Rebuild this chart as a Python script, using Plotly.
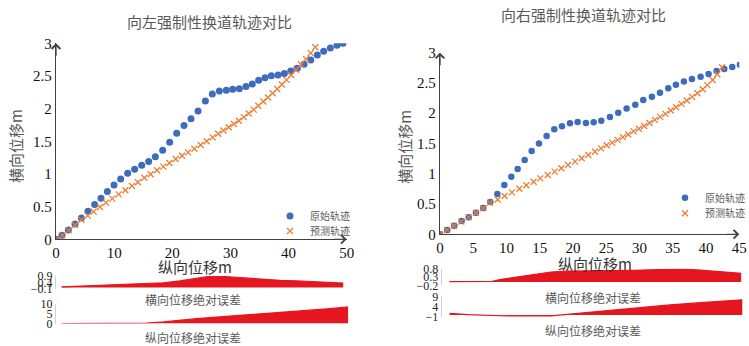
import plotly.graph_objects as go

W, H = 749, 346

# ---------------- data ----------------
left_blue_x = [0, 1.03, 2.12, 3.27, 4.36, 5.5, 6.65, 7.74, 8.83, 9.98, 11.12, 12.33, 13.53, 14.74, 15.94,
               17.09, 18.35, 19.55, 20.76, 22.02, 23.22, 24.43, 25.69, 26.89, 28.1, 29.3, 30.39, 31.54,
               32.68, 33.77, 34.86, 35.95, 37.04, 38.19, 39.28, 40.37, 41.51, 42.66, 43.81, 44.95, 46.04,
               47.19, 48.33, 49.37]
left_blue_y = [0, 0.061, 0.143, 0.235, 0.327, 0.429, 0.531, 0.628, 0.730, 0.832, 0.923, 1.010, 1.071,
               1.133, 1.189, 1.265, 1.362, 1.485, 1.622, 1.740, 1.847, 1.964, 2.117, 2.224, 2.270, 2.281,
               2.296, 2.306, 2.337, 2.378, 2.434, 2.474, 2.505, 2.515, 2.536, 2.577, 2.617, 2.679, 2.745,
               2.821, 2.878, 2.929, 2.969, 3.0]
left_pred_x = [0, 1.09, 2.18, 3.27, 4.36, 5.45, 6.48, 7.57, 8.6, 9.69, 10.78, 11.93, 13.07, 14.1, 15.2,
               16.28, 17.37, 18.46, 19.5, 20.59, 21.68, 22.71, 23.8, 24.89, 25.92, 26.95, 27.9, 28.8,
               29.7, 30.6, 31.45, 32.3, 33.15, 34.0, 34.8, 35.65, 36.45, 37.25, 38.05, 38.85, 39.65,
               40.45, 41.3, 42.15, 43.0, 43.8, 44.6]
left_pred_y = [0, 0.06, 0.137, 0.219, 0.30, 0.362, 0.423, 0.494, 0.561, 0.622, 0.688, 0.75, 0.816, 0.872,
               0.943, 0.995, 1.056, 1.112, 1.168, 1.229, 1.28, 1.331, 1.387, 1.443, 1.50, 1.56, 1.615,
               1.665, 1.715, 1.765, 1.815, 1.87, 1.925, 1.985, 2.045, 2.11, 2.17, 2.235, 2.30, 2.37, 2.44,
               2.515, 2.595, 2.675, 2.76, 2.85, 2.94]

right_blue_x = [0, 1.10, 2.15, 3.26, 4.31, 5.41, 6.51, 7.57, 8.62, 9.67, 10.72, 11.67, 12.73, 13.78,
                14.88, 16.03, 17.18, 18.34, 19.54, 20.69, 21.94, 23.10, 24.25, 25.55, 26.80, 28.06, 29.36,
                30.56, 31.86, 33.07, 34.32, 35.47, 36.67, 37.88, 39.18, 40.38, 41.58, 42.74, 43.94, 45.09]
right_blue_y = [0, 0.072, 0.143, 0.220, 0.281, 0.358, 0.435, 0.534, 0.666, 0.815, 0.952, 1.079, 1.227,
                1.376, 1.502, 1.624, 1.734, 1.783, 1.833, 1.855, 1.838, 1.849, 1.877, 1.937, 2.009, 2.080,
                2.141, 2.218, 2.273, 2.339, 2.411, 2.471, 2.526, 2.565, 2.603, 2.647, 2.697, 2.730, 2.763,
                2.80]
right_pred_x = [0, 1.05, 2.1, 3.2, 4.3, 5.4, 6.5, 7.52, 8.67, 9.72, 10.82, 11.93, 12.98, 14.08, 15.08,
                16.19, 17.24, 18.24, 19.24, 20.3, 21.3, 22.3, 23.3, 24.2, 25.05, 25.9, 26.7, 27.5, 28.3,
                29.1, 29.9, 30.7, 31.5, 32.3, 33.1, 33.9, 34.7, 35.5, 36.3, 37.1, 37.9, 38.7, 39.5, 40.2,
                41.0, 41.7, 42.4]
right_pred_y = [0, 0.07, 0.14, 0.21, 0.28, 0.355, 0.43, 0.52, 0.575, 0.632, 0.693, 0.753, 0.809, 0.869,
                0.924, 0.98, 1.035, 1.09, 1.145, 1.20, 1.255, 1.31, 1.365, 1.42, 1.47, 1.515, 1.56, 1.605,
                1.65, 1.70, 1.745, 1.79, 1.84, 1.89, 1.94, 1.99, 2.045, 2.10, 2.155, 2.21, 2.27, 2.33,
                2.395, 2.465, 2.55, 2.645, 2.76]

# absolute error strips
left_lat_x = [0.98, 7.0, 12.7, 18.5, 21.3, 24.2, 26.5, 28.2, 29.9, 32.8, 35.7, 38.5, 41.4, 44.2, 47.1, 49.4]
left_lat_y = [0.05, 0.17, 0.27, 0.37, 0.51, 0.74, 0.88, 0.88, 0.82, 0.72, 0.64, 0.56, 0.51, 0.45, 0.43, 0.35]
left_lon_x = [0.98, 12.7, 15.6, 18.5, 24.2, 29.9, 35.7, 41.4, 47.1, 50.3]
left_lon_y = [0.0, 0.05, 0.25, 0.8, 2.5, 3.8, 5.0, 6.2, 7.6, 8.5]
right_lat_x = [1.16, 4.0, 7.5, 9.0, 11.5, 14.0, 16.5, 19.0, 24.05, 29.1, 34.1, 36.6, 39.1, 41.6, 44.1, 45.3]
right_lat_y = [0.02, 0.02, 0.03, 0.16, 0.32, 0.48, 0.60, 0.66, 0.66, 0.70, 0.76, 0.78, 0.72, 0.64, 0.56, 0.52]
right_lon_x = [1.2, 4.0, 9.0, 14.0, 16.5, 19.0, 24.0, 29.1, 34.1, 39.1, 44.1, 45.5]
right_lon_y = [0.8, 0.1, -0.4, -0.5, -0.5, 0.3, 1.8, 3.0, 4.7, 5.9, 6.9, 7.3]

left_title = "向左强制性换道轨迹对比"
right_title = "向右强制性换道轨迹对比"
ylab = "横向位移m"
xlab = "纵向位移m"
lat_lab = "横向位移绝对误差"
lon_lab = "纵向位移绝对误差"
name_orig = "原始轨迹"
name_pred = "预测轨迹"

main_y_ticks = [0, 0.5, 1, 1.5, 2, 2.5, 3]
main_y_text = ["0", "0.5", "1", "1.5", "2", "2.5", "3"]
left_x_ticks = [0, 10, 20, 30, 40, 50]
right_x_ticks = [0, 5, 10, 15, 20, 25, 30, 35, 40, 45]
left_lat_ticks = [-0.1, 0.4, 0.9]
left_lon_ticks = [0, 5, 10]
right_lat_ticks = [-0.2, 0.3, 0.8]
right_lon_ticks = [-1, 4, 9]

# ---------------- style ----------------
BLUE = "#3D6CBD"
ORANGE = "#ED7D31"
RED = "#E5161F"
AX = "#404040"
GREY = "#595959"
SERIF = "Liberation Serif, Times New Roman, serif"
CJK = "Noto Sans CJK SC, sans-serif"


def px(x):
    return x / W


def py(y):
    return 1 - y / H


fig = go.Figure()

fig.add_trace(go.Scatter(x=left_blue_x, y=left_blue_y, mode="markers", name=name_orig,
                         marker=dict(color=BLUE, size=7), xaxis="x", yaxis="y", legend="legend"))
fig.add_trace(go.Scatter(x=left_pred_x, y=left_pred_y, mode="markers", name=name_pred,
                         marker=dict(symbol="x-thin", size=6, line=dict(color=ORANGE, width=1.3), color=ORANGE),
                         xaxis="x", yaxis="y", legend="legend3"))
fig.add_trace(go.Scatter(x=right_blue_x, y=right_blue_y, mode="markers", name=name_orig,
                         marker=dict(color=BLUE, size=6.5), xaxis="x2", yaxis="y2", legend="legend2"))
fig.add_trace(go.Scatter(x=right_pred_x, y=right_pred_y, mode="markers", name=name_pred,
                         marker=dict(symbol="x-thin", size=6, line=dict(color=ORANGE, width=1.3), color=ORANGE),
                         xaxis="x2", yaxis="y2", legend="legend4"))

for xs, ys, xa, ya in [(left_lat_x, left_lat_y, "x3", "y3"), (left_lon_x, left_lon_y, "x4", "y4"),
                       (right_lat_x, right_lat_y, "x5", "y5"), (right_lon_x, right_lon_y, "x6", "y6")]:
    fig.add_trace(go.Scatter(x=xs, y=ys, mode="lines", fill="tozeroy", fillcolor=RED,
                             line=dict(color=RED, width=1.2), showlegend=False, xaxis=xa, yaxis=ya))

main_axis = dict(showline=True, linecolor=AX, linewidth=1.3, showgrid=False, zeroline=False,
                 ticks="", tickfont=dict(family=SERIF, size=15, color="#111111"), fixedrange=True,
                 automargin=False)

fig.update_layout(
    width=W, height=H, margin=dict(l=0, r=0, t=0, b=0, autoexpand=False),
    paper_bgcolor="white", plot_bgcolor="white",
    xaxis=dict(main_axis, domain=[px(56), px(346.7)], range=[0, 50], tickvals=left_x_ticks,
               anchor="y"),
    yaxis=dict(main_axis, domain=[py(239.3), py(43.3)], range=[0, 3], tickvals=main_y_ticks,
               ticktext=main_y_text, anchor="x"),
    xaxis2=dict(main_axis, domain=[px(440), px(739.3)], range=[0, 45], tickvals=right_x_ticks,
                anchor="y2"),
    yaxis2=dict(main_axis, domain=[py(234.3), py(52.7)], range=[0, 3], tickvals=main_y_ticks,
                ticktext=main_y_text, anchor="x2"),
)

strip_x = dict(visible=False, showgrid=False, zeroline=False, fixedrange=True, automargin=False)
strip_y = dict(showline=True, linecolor="#D0D0D0", linewidth=1, showgrid=False, zeroline=False, ticks="",
               tickfont=dict(family=SERIF, size=12, color="#222222"), fixedrange=True, automargin=False)
fig.update_layout(
    xaxis3=dict(strip_x, domain=[px(56), px(346.7)], range=[0, 50], anchor="y3"),
    yaxis3=dict(strip_y, domain=[py(288.7), py(276)], range=[-0.1, 0.9], tickvals=left_lat_ticks, anchor="x3"),
    xaxis4=dict(strip_x, domain=[px(56), px(348.3)], range=[0, 50.3], anchor="y4"),
    yaxis4=dict(strip_y, domain=[py(323.5), py(304)], range=[0, 10], tickvals=left_lon_ticks, anchor="x4"),
    xaxis5=dict(strip_x, domain=[px(441.7), px(742.5)], range=[0, 45.5], anchor="y5"),
    yaxis5=dict(strip_y, domain=[py(285.3), py(268.7)], range=[-0.2, 0.8], tickvals=right_lat_ticks, anchor="x5"),
    xaxis6=dict(strip_x, domain=[px(441.7), px(742.5)], range=[0, 45.5], anchor="y6"),
    yaxis6=dict(strip_y, domain=[py(317), py(296.3)], range=[-1, 9], tickvals=right_lon_ticks, anchor="x6"),
)

leg = dict(font=dict(family=CJK, size=10, color=GREY), bgcolor="rgba(0,0,0,0)", xanchor="left",
           yanchor="top", itemwidth=30, tracegroupgap=0)
fig.update_layout(
    legend=dict(leg, x=px(270), y=py(201.5)),
    legend3=dict(leg, x=px(270), y=py(216.5)),
    legend2=dict(leg, x=px(665), y=py(183.3)),
    legend4=dict(leg, x=px(665), y=py(198.7)),
)

ann = []


def text(x, y, s, size, color=GREY, angle=0):
    ann.append(dict(x=px(x), y=py(y), xref="paper", yref="paper", text=s, showarrow=False,
                    font=dict(family=CJK, size=size, color=color), textangle=angle,
                    xanchor="center", yanchor="middle"))


text(210, 21.7, left_title, 15)
text(583, 15, right_title, 15)
text(15, 146, ylab, 15, angle=-90)
text(405, 146.7, ylab, 15, angle=-90)
text(195, 266, xlab, 15, color="#333333")
text(595, 263, xlab, 15, color="#333333")
text(193, 299.3, lat_lab, 12)
text(193, 337, lon_lab, 12)
text(593, 297, lat_lab, 12)
text(593, 330.3, lon_lab, 12)

for xr, yr, xv, yv, axv, ayv in [("x", "y", 0, 3, 0, 14), ("x", "y", 50, 0, -14, 0),
                                  ("x2", "y2", 0, 3, 0, 14), ("x2", "y2", 45, 0, -14, 0)]:
    ann.append(dict(x=xv, y=yv, xref=xr, yref=yr, ax=axv, ay=ayv, text="", showarrow=True,
                    arrowhead=4, arrowsize=1.3, arrowwidth=1.3, arrowcolor=AX, standoff=0))

fig.update_layout(annotations=ann)

fig.write_html("out.html", config={"displayModeBar": False},
               post_script="document.body.style.margin='0';document.body.style.overflow='hidden';")
